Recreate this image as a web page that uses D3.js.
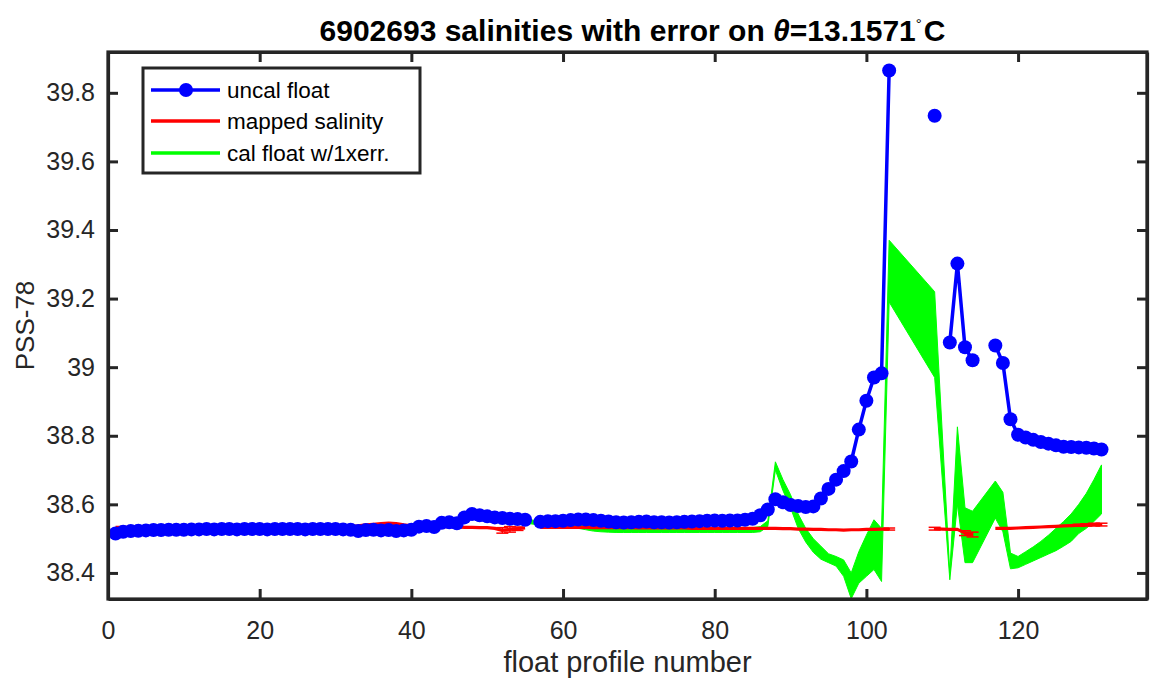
<!DOCTYPE html>
<html><head><meta charset="utf-8">
<script src="https://cdn.jsdelivr.net/npm/d3@7"></script>
<style>
body{margin:0;background:#fff;}
svg text{font-family:"Liberation Sans",Arial,Helvetica,sans-serif;}
</style>
</head><body>
<svg id="chart" width="1150" height="681"></svg>
<script>
// ---------------- data ----------------
const titleMain = "6902693 salinities with error on ";
const titleTheta = "\u03B8";
const titleValue = "=13.1571";
const titleUnit = "C";
const xLabel = "float profile number";
const yLabel = "PSS-78";
const xTicks = [0, 20, 40, 60, 80, 100, 120];
const xTickLabels = ["0", "20", "40", "60", "80", "100", "120"];
const yTicks = [38.4, 38.6, 38.8, 39.0, 39.2, 39.4, 39.6, 39.8];
const yTickLabels = ["38.4", "38.6", "38.8", "39", "39.2", "39.4", "39.6", "39.8"];
const legendLabels = ["uncal float", "mapped salinity", "cal float w/1xerr."];

const profiles = d3.range(1, 132);

const uncal = [
 38.515,38.520,38.522,38.523,38.524,38.525,38.525,38.526,38.526,38.526,
 38.527,38.527,38.528,38.527,38.528,38.528,38.527,38.528,38.528,38.528,
 38.527,38.528,38.528,38.528,38.528,38.527,38.528,38.528,38.528,38.528,
 38.527,38.526,38.522,38.525,38.526,38.524,38.525,38.522,38.524,38.526,
 38.535,38.537,38.534,38.546,38.548,38.545,38.562,38.572,38.568,38.565,
 38.562,38.560,38.558,38.557,38.555,null,38.549,38.551,38.551,38.552,
 38.554,38.556,38.556,38.554,38.552,38.550,38.548,38.547,38.548,38.549,
 38.550,38.548,38.548,38.547,38.548,38.549,38.550,38.551,38.552,38.553,
 38.552,38.553,38.553,38.555,38.558,38.568,38.585,38.615,38.606,38.598,
 38.595,38.592,38.594,38.617,38.645,38.672,38.697,38.725,38.818,38.902,
 38.970,38.982,39.865,null,null,null,null,null,39.733,null,
 39.072,39.302,39.058,39.020,null,null,39.063,39.012,38.848,38.803,
 38.795,38.788,38.782,38.777,38.772,38.768,38.767,38.766,38.765,38.763,38.760
];

const mapped = [
 38.533,38.533,38.533,38.533,38.533,38.533,38.533,38.533,38.533,38.533,
 38.533,38.533,38.533,38.533,38.533,38.533,38.533,38.533,38.533,38.533,
 38.533,38.533,38.534,38.535,38.536,38.538,38.540,38.538,38.536,38.535,
 38.535,38.536,38.537,38.540,38.542,38.544,38.545,38.544,38.540,38.537,
 38.536,38.536,38.535,38.535,38.535,38.534,38.533,38.533,38.532,38.532,
 38.530,38.524,38.527,38.529,38.531,null,38.533,38.533,38.533,38.533,
 38.533,38.533,38.533,38.532,38.532,38.532,38.532,38.532,38.532,38.531,
 38.531,38.531,38.531,38.531,38.531,38.531,38.530,38.530,38.530,38.530,
 38.530,38.530,38.530,38.530,38.530,38.530,38.530,38.530,38.529,38.529,
 38.528,38.528,38.527,38.527,38.526,38.526,38.525,38.526,38.526,38.527,
 38.527,38.528,38.528,null,null,null,null,null,38.529,38.528,
 38.527,38.527,38.516,38.512,null,null,38.530,38.530,38.530,38.531,
 38.532,38.533,38.534,38.535,38.536,38.537,38.538,38.539,38.540,38.541,38.541
];

const errProfiles = [52, 53, 54, 103, 109, 113, 114, 128, 129, 130, 131];
const errValues = [0.008, 0.008, 0.005, 0.003, 0.004, 0.007, 0.007, 0.003, 0.003, 0.004, 0.004];

const calLow = [
 38.510,38.514,38.516,38.517,38.518,38.519,38.519,38.520,38.520,38.520,
 38.521,38.521,38.521,38.521,38.521,38.521,38.521,38.521,38.521,38.521,
 38.521,38.521,38.521,38.521,38.521,38.521,38.521,38.521,38.521,38.521,
 38.521,38.520,38.517,38.519,38.520,38.518,38.519,38.517,38.518,38.520,
 38.528,38.530,38.528,38.538,38.540,38.538,38.552,38.560,38.557,38.554,
 38.552,38.550,38.548,38.547,38.545,null,38.540,38.540,38.538,38.536,
 38.533,38.530,38.526,38.522,38.520,38.519,38.518,38.518,38.518,38.518,
 38.518,38.518,38.518,38.518,38.518,38.518,38.518,38.518,38.518,38.518,
 38.518,38.518,38.518,38.518,38.518,38.520,38.535,38.700,38.640,38.590,
 38.530,38.490,38.460,38.440,38.430,38.420,38.390,38.325,38.370,38.390,
 38.410,38.375,39.190,null,null,null,null,null,38.970,null,
 38.380,38.600,38.430,38.430,null,null,38.560,38.520,38.412,38.415,
 38.425,38.435,38.445,38.455,38.465,38.478,38.492,38.515,38.530,38.550,38.572
];

const calHigh = [
 38.517,38.522,38.524,38.525,38.526,38.527,38.527,38.528,38.528,38.528,
 38.529,38.529,38.529,38.529,38.529,38.529,38.529,38.529,38.529,38.529,
 38.529,38.529,38.529,38.529,38.529,38.529,38.529,38.529,38.529,38.529,
 38.529,38.528,38.524,38.527,38.528,38.526,38.527,38.524,38.526,38.528,
 38.537,38.539,38.536,38.548,38.550,38.547,38.564,38.574,38.570,38.567,
 38.564,38.562,38.560,38.559,38.557,null,38.551,38.552,38.551,38.550,
 38.548,38.545,38.540,38.536,38.533,38.532,38.531,38.531,38.531,38.531,
 38.531,38.531,38.531,38.531,38.531,38.531,38.531,38.531,38.531,38.531,
 38.531,38.531,38.531,38.532,38.532,38.535,38.552,38.724,38.672,38.628,
 38.572,38.530,38.500,38.478,38.456,38.448,38.438,38.400,38.462,38.510,
 38.555,38.530,39.370,null,null,null,null,null,39.220,null,
 38.400,38.826,38.590,38.580,null,null,38.668,38.635,38.458,38.448,
 38.462,38.476,38.492,38.510,38.530,38.550,38.572,38.600,38.632,38.672,38.715
];

// ---------------- drawing ----------------
const svg = d3.select("#chart");
const L = 108, R = 1147, T = 52, B = 599;
const x = d3.scaleLinear().domain([0, 137]).range([L, R]);
const y = d3.scaleLinear().domain([38.324, 39.919]).range([B, T]);
const axisColor = "#262626";

const plot = svg.append("g");
svg.append("defs").append("clipPath").attr("id", "clip")
  .append("rect").attr("x", L).attr("y", T).attr("width", R - L).attr("height", B - T);
const clipped = plot.append("g").attr("clip-path", "url(#clip)");

// green band (cal float w/ 1x err)
const calData = profiles.map((p, i) => ({p, lo: calLow[i], hi: calHigh[i]}))
  .filter(d => d.lo != null && d.hi != null);
clipped.append("path")
  .datum(calData)
  .attr("d", d3.area().x(d => x(d.p)).y0(d => y(d.lo)).y1(d => y(d.hi)))
  .attr("fill", "#00ff00").attr("stroke", "#00ff00").attr("stroke-width", 1);

// mapped salinity (red) with error bars
const mapData = profiles.map((p, i) => ({p, v: mapped[i]}));
clipped.append("path")
  .datum(mapData)
  .attr("d", d3.line().defined(d => d.v != null).x(d => x(d.p)).y(d => y(d.v)))
  .attr("fill", "none").attr("stroke", "#ff0000").attr("stroke-width", 3.2)
  .attr("stroke-linejoin", "round");
const errData = errProfiles.map((p, i) => ({p, v: mapped[p - 1], e: errValues[i]}));
const eg = clipped.append("g").attr("stroke", "#ff0000").attr("stroke-width", 1.5);
errData.forEach(d => {
  eg.append("line").attr("x1", x(d.p)).attr("x2", x(d.p)).attr("y1", y(d.v - d.e)).attr("y2", y(d.v + d.e));
  eg.append("line").attr("x1", x(d.p) - 6).attr("x2", x(d.p) + 6).attr("y1", y(d.v - d.e)).attr("y2", y(d.v - d.e));
  eg.append("line").attr("x1", x(d.p) - 6).attr("x2", x(d.p) + 6).attr("y1", y(d.v + d.e)).attr("y2", y(d.v + d.e));
});

// uncal float (blue)
const uncData = profiles.map((p, i) => ({p, v: uncal[i]}));
clipped.append("path")
  .datum(uncData)
  .attr("d", d3.line().defined(d => d.v != null).x(d => x(d.p)).y(d => y(d.v)))
  .attr("fill", "none").attr("stroke", "#0000ff").attr("stroke-width", 3.5)
  .attr("stroke-linejoin", "round");
clipped.append("g").selectAll("circle")
  .data(uncData.filter(d => d.v != null))
  .join("circle")
  .attr("cx", d => x(d.p)).attr("cy", d => y(d.v)).attr("r", 7)
  .attr("fill", "#0000ff");

// axes (ticks inward, box)
const fmtX = (d, i) => xTickLabels[i];
const fmtY = (d, i) => yTickLabels[i];
const ax = [];
ax.push(svg.append("g").attr("transform", `translate(0,${B})`)
  .call(d3.axisBottom(x).tickValues(xTicks).tickFormat(fmtX).tickSizeInner(-10).tickSizeOuter(0).tickPadding(22)));
ax.push(svg.append("g").attr("transform", `translate(0,${T})`)
  .call(d3.axisTop(x).tickValues(xTicks).tickFormat("").tickSizeInner(-10).tickSizeOuter(0)));
ax.push(svg.append("g").attr("transform", `translate(${L},0)`)
  .call(d3.axisLeft(y).tickValues(yTicks).tickFormat(fmtY).tickSizeInner(-10).tickSizeOuter(0).tickPadding(13)));
ax.push(svg.append("g").attr("transform", `translate(${R},0)`)
  .call(d3.axisRight(y).tickValues(yTicks).tickFormat("").tickSizeInner(-10).tickSizeOuter(0)));
ax.forEach(g => {
  g.select(".domain").attr("stroke", axisColor).attr("stroke-width", 3.2);
  g.selectAll(".tick line").attr("stroke", axisColor).attr("stroke-width", 3);
  g.selectAll(".tick text").attr("fill", axisColor).style("font-size", "25px")
    .style("font-family", "'Liberation Sans', Arial, sans-serif");
});
svg.append("rect").attr("x", L).attr("y", T).attr("width", R - L).attr("height", B - T)
  .attr("fill", "none").attr("stroke", axisColor).attr("stroke-width", 3.2);

// labels
svg.append("text").attr("x", (L + R) / 2).attr("y", 672).attr("text-anchor", "middle")
  .attr("fill", axisColor).style("font-size", "29px").text(xLabel);
svg.append("text").attr("transform", `translate(34,${(T + B) / 2}) rotate(-90)`)
  .attr("text-anchor", "middle").attr("fill", axisColor).style("font-size", "26px").text(yLabel);

// title
const title = svg.append("text").attr("x", (L + R) / 2 + 5).attr("y", 41).attr("text-anchor", "middle")
  .attr("fill", "#000").style("font-size", "30px").style("font-weight", "bold");
title.append("tspan").text(titleMain);
title.append("tspan").style("font-style", "italic").text(titleTheta);
title.append("tspan").text(titleValue);
title.append("tspan").attr("dy", -12).style("font-size", "15px").style("font-weight", "normal").text("\u00B0");
title.append("tspan").attr("dy", 12).attr("dx", 2).text(titleUnit);

// legend
const lg = svg.append("g");
lg.append("rect").attr("x", 143).attr("y", 68).attr("width", 277).attr("height", 105)
  .attr("fill", "#fff").attr("stroke", axisColor).attr("stroke-width", 3);
const rowsY = [90, 121, 153];
const colors = ["#0000ff", "#ff0000", "#00ff00"];
rowsY.forEach((ry, i) => {
  lg.append("line").attr("x1", 151).attr("x2", 220).attr("y1", ry).attr("y2", ry)
    .attr("stroke", colors[i]).attr("stroke-width", 3.5);
  if (i === 0) lg.append("circle").attr("cx", 186).attr("cy", ry).attr("r", 7).attr("fill", colors[i]);
  lg.append("text").attr("x", 227).attr("y", ry + 8).attr("fill", "#000")
    .style("font-size", "22.5px").text(legendLabels[i]);
});
</script>
</body></html>
